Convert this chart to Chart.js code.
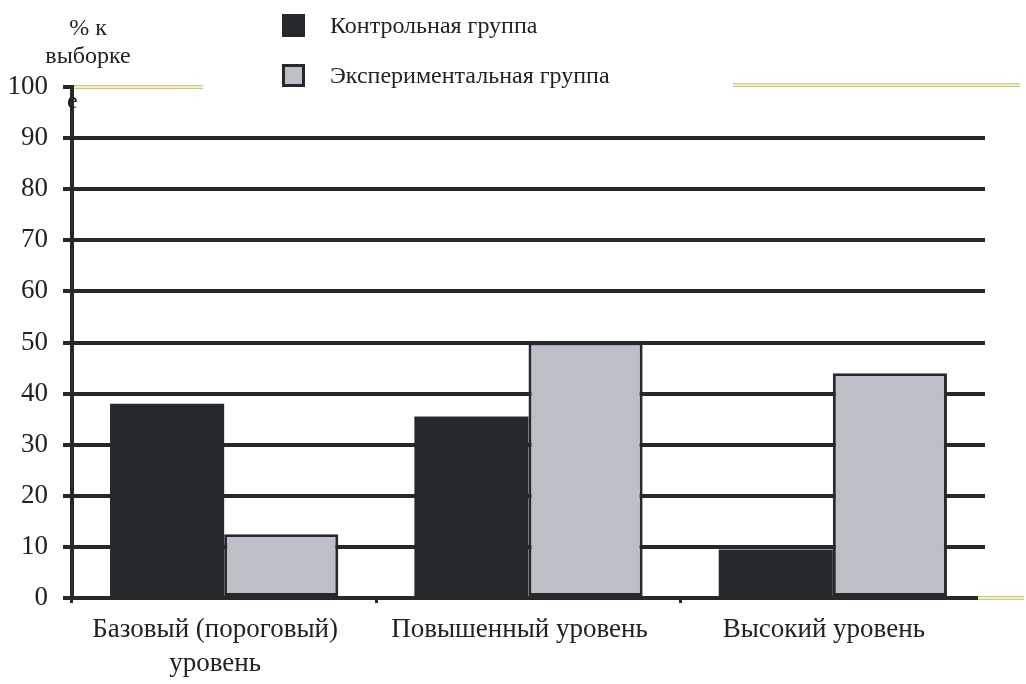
<!DOCTYPE html>
<html>
<head>
<meta charset="utf-8">
<script src="https://cdn.jsdelivr.net/npm/chart.js@4/dist/chart.umd.min.js"></script>
<style>
  html, body { margin: 0; padding: 0; background: #ffffff; }
  #wrap { width: 1026px; height: 684px; }
</style>
</head>
<body>
<div id="wrap"><canvas id="chart" width="1026" height="684"></canvas></div>
<script>
// Categories (levels) and the two groups' shares, in % of the sample
const categories = [['Базовый (пороговый)', 'уровень'], 'Повышенный уровень', 'Высокий уровень'];
const seriesNames = ['Контрольная группа', 'Экспериментальная группа'];
const controlValues = [38, 35.5, 9.5];
const experimentalValues = [12.5, 50, 44];
const yTickValues = [0, 10, 20, 30, 40, 50, 60, 70, 80, 90, 100];
const axisTitleLines = ['% к', 'выборке', 'е'];

const DARK = '#26292b';
const LIGHT = '#bcbfc6';
const TEXT = '#222222';
const SERIF = '"Liberation Serif", "Times New Roman", serif';

// Legend drawn as a vertical list above the plot
const sideLegend = {
  id: 'sideLegend',
  afterDraw(chart) {
    const ctx = chart.ctx;
    ctx.save();
    const x0 = 282, size = 23, rowGap = 50, y0 = 14;
    chart.data.datasets.forEach((ds, i) => {
      const y = y0 + i * rowGap;
      ctx.fillStyle = ds.borderColor;
      ctx.fillRect(x0, y, size, size);
      if (ds.borderWidth) {
        ctx.fillStyle = ds.backgroundColor;
        ctx.fillRect(x0 + ds.borderWidth, y + ds.borderWidth, size - 2 * ds.borderWidth, size - 2 * ds.borderWidth);
      }
      ctx.fillStyle = TEXT;
      ctx.font = '24px ' + SERIF;
      ctx.textBaseline = 'alphabetic';
      ctx.textAlign = 'left';
      ctx.fillText(ds.label, 330, y + 19);
    });
    ctx.restore();
  }
};

// Axis caption and the pale guide strokes along the top and the baseline
const decorations = {
  id: 'decorations',
  beforeDatasetsDraw(chart) {
    const ctx = chart.ctx;
    const area = chart.chartArea;
    const yScale = chart.scales.y;
    const yTop = yScale.getPixelForValue(100);
    const yZero = yScale.getPixelForValue(0);
    ctx.save();
    const stroke = (x1, x2, y) => {
      ctx.fillStyle = '#c9c59c';
      ctx.fillRect(x1, y - 2, x2 - x1, 4);
      ctx.fillStyle = '#f1efb4';
      ctx.fillRect(x1, y - 1, x2 - x1, 2);
    };
    stroke(area.left + 2, area.left + 131, yTop);
    stroke(area.left + 661, 1020, yTop - 2);
    stroke(area.right - 7, 1024, yZero);
    ctx.restore();
  },
  afterDraw(chart) {
    const ctx = chart.ctx;
    ctx.save();
    ctx.fillStyle = TEXT;
    ctx.font = '24px ' + SERIF;
    ctx.textBaseline = 'alphabetic';
    ctx.textAlign = 'center';
    ctx.fillText(axisTitleLines[0], 88, 35);
    ctx.fillText(axisTitleLines[1], 88, 63);
    ctx.textAlign = 'left';
    ctx.fillText(axisTitleLines[2], 67, 108);
    ctx.restore();
  }
};

new Chart(document.getElementById('chart'), {
  type: 'bar',
  data: {
    labels: categories,
    datasets: [
      {
        label: seriesNames[0],
        data: controlValues,
        backgroundColor: DARK,
        borderColor: DARK,
        borderWidth: 0
      },
      {
        label: seriesNames[1],
        data: experimentalValues,
        backgroundColor: LIGHT,
        borderColor: DARK,
        borderWidth: 3,
        borderSkipped: false
      }
    ]
  },
  options: {
    responsive: false,
    animation: false,
    devicePixelRatio: 1,
    layout: { padding: { top: 87, right: 41, left: 0, bottom: 0 } },
    datasets: { bar: { categoryPercentage: 0.75, barPercentage: 1 } },
    plugins: {
      legend: { display: false },
      tooltip: { enabled: false },
      title: { display: false }
    },
    scales: {
      x: {
        offset: true,
        grid: {
          display: true,
          drawOnChartArea: false,
          offset: true,
          tickLength: 5,
          lineWidth: 3,
          tickColor: c => (c.index === undefined ? 'rgba(0,0,0,0)' : DARK)
        },
        border: { display: true, color: DARK, width: 4 },
        ticks: {
          color: TEXT,
          font: { family: SERIF, size: 27, lineHeight: 1.25 },
          padding: 10,
          labelOffset: -9,
          maxRotation: 0,
          autoSkip: false
        },
        afterFit: s => { s.height = 86; }
      },
      y: {
        min: 0,
        max: 100,
        afterBuildTicks: s => { s.ticks = yTickValues.map(v => ({ value: v })); },
        grid: {
          color: c => (c.tick && c.tick.value === 100 ? 'rgba(0,0,0,0)' : DARK),
          tickColor: DARK,
          lineWidth: 4,
          tickLength: 9
        },
        border: { display: true, color: DARK, width: 4 },
        ticks: {
          color: TEXT,
          font: { family: SERIF, size: 27 },
          padding: 15
        },
        afterFit: s => { s.width = 72; }
      }
    }
  },
  plugins: [sideLegend, decorations]
});
</script>
</body>
</html>
